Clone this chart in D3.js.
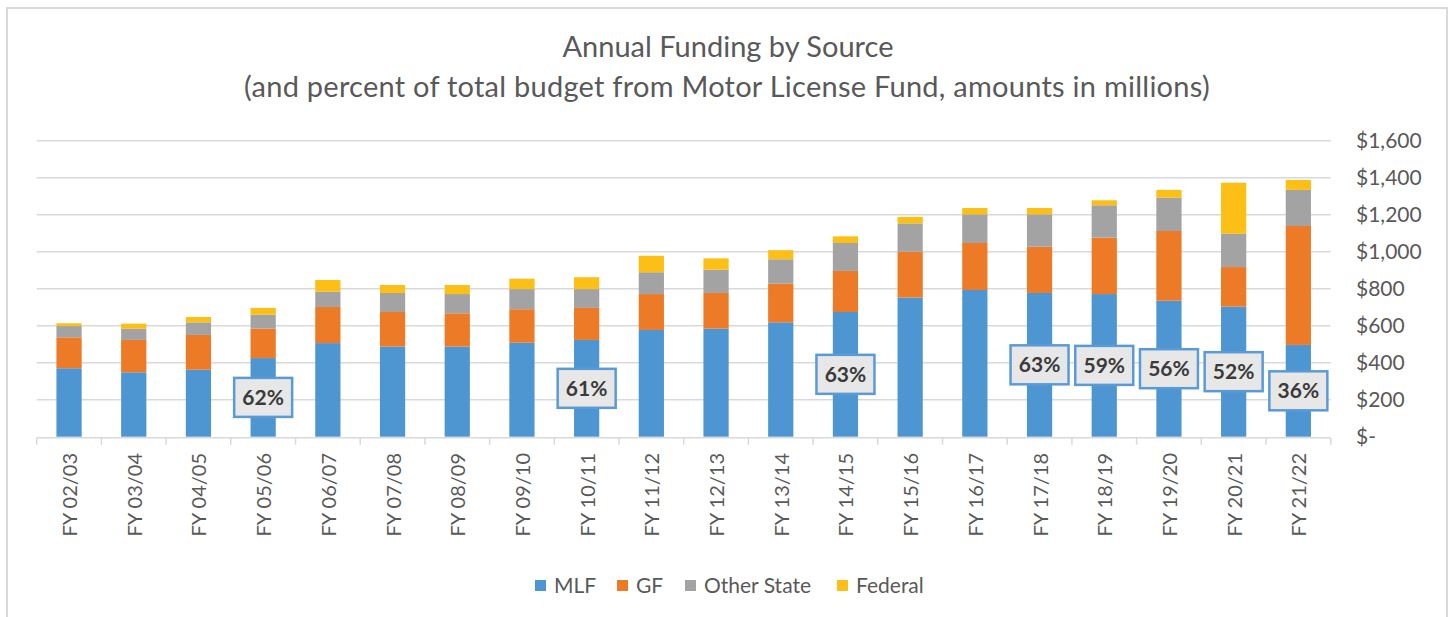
<!DOCTYPE html>
<html>
<head>
<meta charset="utf-8">
<script src="https://cdn.jsdelivr.net/npm/d3@7"></script>
<style>
  html, body { margin: 0; padding: 0; background: #ffffff; }
  svg { display: block; }
  text { font-family: Lato, "Open Sans", sans-serif; }
</style>
</head>
<body>
<svg id="chart" width="1452" height="617"></svg>
<script>
// ---- data (millions of dollars) ----
const categories = ["FY 02/03","FY 03/04","FY 04/05","FY 05/06","FY 06/07","FY 07/08","FY 08/09","FY 09/10","FY 10/11","FY 11/12","FY 12/13","FY 13/14","FY 14/15","FY 15/16","FY 16/17","FY 17/18","FY 18/19","FY 19/20","FY 20/21","FY 21/22"];
const mlf        = [370,348,362,425,506,487,487,508,523,577,584,618,674,752,793,777,771,735,703,496];
const gf         = [167,175,188,159,195,187,180,181,173,194,193,209,222,248,254,250,305,377,214,643];
const otherState = [ 61, 61, 68, 76, 83,103,104,109,102,118,126,132,151,153,155,175,175,180,180,195];
const federal    = [ 15, 27, 29, 36, 63, 43, 49, 56, 64, 89, 61, 49, 36, 35, 34, 34, 27, 42,276, 54];
const pctLabels  = [null,null,null,"62%",null,null,null,null,"61%",null,null,null,"63%",null,null,"63%","59%","56%","52%","36%"];
const seriesNames = ["MLF","GF","Other State","Federal"];
const yTicks = [0,200,400,600,800,1000,1200,1400,1600];
const titleLines = ["Annual Funding by Source","(and percent of total budget from Motor License Fund, amounts in millions)"];

// ---- styles ----
const colors = ["#4e96d2","#ec7a26","#a3a3a3","#fcbf16"];
const gridColor = "#d9d9d9";
const textColor = "#595959";

const svg = d3.select("#chart");

// chart border
svg.append("rect").attr("x",7).attr("y",8).attr("width",1440).attr("height",640)
  .attr("fill","#fff").attr("stroke",gridColor).attr("stroke-width",2);

// titles
svg.append("text").attr("x",728).attr("y",57).attr("text-anchor","middle")
  .attr("fill",textColor).style("font-size","29px").text(titleLines[0]);
svg.append("text").attr("x",727).attr("y",97).attr("text-anchor","middle")
  .attr("fill",textColor).style("font-size","29px").style("letter-spacing","0.25px").text(titleLines[1]);

// scales
const x = d3.scaleBand().domain(categories).range([36.7,1330.7]).paddingInner(0.61).paddingOuter(0.305);
const y = d3.scaleLinear().domain([0,1600]).range([436.7,140.7]);

// gridlines
svg.append("g").selectAll("line").data(yTicks.filter(v => v > 0)).join("line")
  .attr("x1",36.7).attr("x2",1330.7)
  .attr("y1",d => y(d)).attr("y2",d => y(d))
  .attr("stroke",gridColor).attr("stroke-width",1.5);

// right axis labels
const fmt = d3.format(",");
svg.append("g").selectAll("text").data(yTicks).join("text")
  .attr("x",1356).attr("y",d => y(d)).attr("dy","0.35em")
  .attr("fill",textColor).style("font-size","21px")
  .text(d => d === 0 ? "$-" : "$" + fmt(d));

// stacked bars
const rows = categories.map((c,i) => ({cat:c, "MLF":mlf[i], "GF":gf[i], "Other State":otherState[i], "Federal":federal[i]}));
const stacked = d3.stack().keys(seriesNames)(rows);
svg.append("g").selectAll("g").data(stacked).join("g")
  .attr("fill",(d,i) => colors[i])
  .selectAll("rect").data(d => d).join("rect")
  .attr("x",d => x(d.data.cat))
  .attr("width",x.bandwidth())
  .attr("y",d => y(d[1]))
  .attr("height",d => y(d[0]) - y(d[1]));

// x axis line and ticks
const axisY = y(0) + 1;
svg.append("line").attr("x1",36.7).attr("x2",1330.7).attr("y1",axisY).attr("y2",axisY)
  .attr("stroke",gridColor).attr("stroke-width",1.5);
const step = x.step();
const boundaries = d3.range(categories.length + 1).map(i => 36.7 + i * step);
svg.append("g").selectAll("line").data(boundaries).join("line")
  .attr("x1",d => d).attr("x2",d => d).attr("y1",axisY).attr("y2",axisY + 7)
  .attr("stroke",gridColor).attr("stroke-width",1.5);

// x labels rotated
svg.append("g").selectAll("text").data(categories).join("text")
  .attr("transform",d => `translate(${x(d) + x.bandwidth()/2 + 1},453) rotate(-90)`)
  .attr("text-anchor","end").attr("dy","0.35em")
  .attr("fill",textColor).style("font-size","20px")
  .text(d => d);

// percent labels at middle of MLF segment
const lab = svg.append("g");
categories.forEach((c,i) => {
  if (!pctLabels[i]) return;
  const cx = x(c) + x.bandwidth()/2;
  const cy = y(mlf[i] / 2);
  const g = lab.append("g").attr("transform",`translate(${cx},${cy})`);
  const rect = g.append("rect");
  g.append("text").attr("text-anchor","middle").attr("dy","0.36em")
    .attr("fill","#3a3a3a").style("font-size","21px").style("font-weight","bold")
    .text(pctLabels[i]);
  const w = 58, h = 39;
  rect.attr("x",-w/2).attr("y",-h/2).attr("width",w).attr("height",h)
    .attr("fill","#e7e7e7").attr("stroke","#5b9bd5").attr("stroke-width",2.5);
});

// legend
const legendItems = [
  {name:"MLF", x:535},
  {name:"GF", x:617},
  {name:"Other State", x:685},
  {name:"Federal", x:837}
];
const lg = svg.append("g");
legendItems.forEach((it,i) => {
  lg.append("rect").attr("x",it.x).attr("y",580).attr("width",11).attr("height",11).attr("fill",colors[i]);
  lg.append("text").attr("x",it.x + 19).attr("y",585.5).attr("dy","0.35em")
    .attr("fill",textColor).style("font-size","21px").text(seriesNames[i]);
});
</script>
</body>
</html>
